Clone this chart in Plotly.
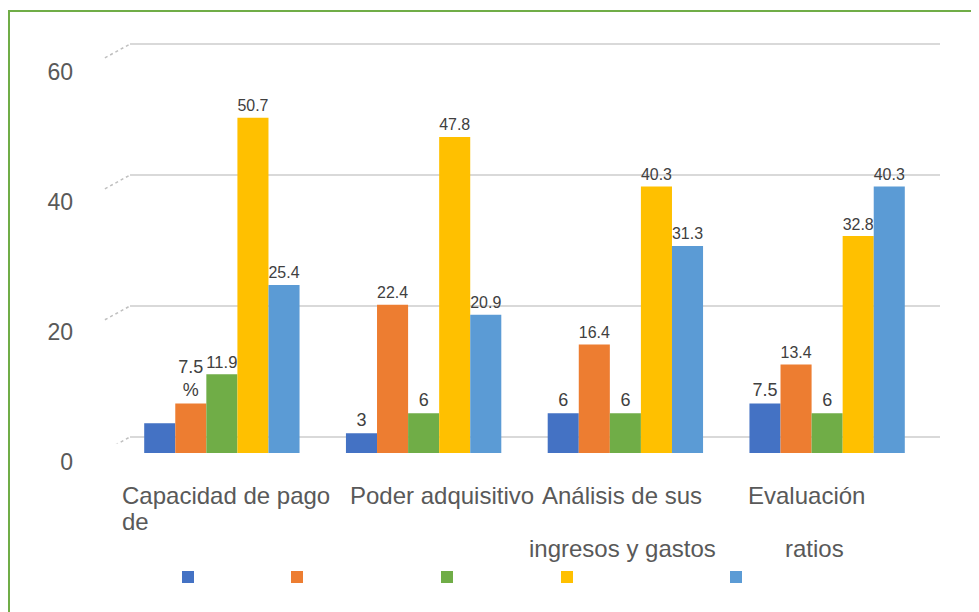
import plotly.graph_objects as go

# data
categories = ["Capacidad de pago de", "Poder adquisitivo",
              "Análisis de sus ingresos y gastos", "Evaluación ratios"]
category_line1 = ["Capacidad de pago", "Poder adquisitivo", "Análisis de sus", "Evaluación"]
category_line2 = ["de", "", "ingresos y gastos", "ratios"]

series_1 = [4.5, 3, 6, 7.5]
series_2 = [7.5, 22.4, 16.4, 13.4]
series_3 = [11.9, 6, 6, 6]
series_4 = [50.7, 47.8, 40.3, 32.8]
series_5 = [25.4, 20.9, 31.3, 40.3]

labels_1 = ["", "3", "6", "7.5"]
labels_2 = ["7.5<br>%", "22.4", "16.4", "13.4"]
labels_3 = ["11.9", "6", "6", "6"]
labels_4 = ["50.7", "47.8", "40.3", "32.8"]
labels_5 = ["25.4", "20.9", "31.3", "40.3"]

tick_values = [0, 20, 40, 60]

OFF = 8  # page body margin in the browser
W, H = 979 - OFF, 612 - OFF


def px_x(p):
    return (p - OFF) / W


def px_y(p):
    return 1 - (p - OFF) / H


colors = ["#4472c4", "#ed7d31", "#70ad47", "#ffc000", "#5b9bd5"]
all_series = [series_1, series_2, series_3, series_4, series_5]
all_labels = [labels_1, labels_2, labels_3, labels_4, labels_5]
legend_ids = ["legend", "legend2", "legend3", "legend4", "legend5"]
legend_centers = [188, 297, 447, 567, 736]

fig = go.Figure()

# empty traces so the grid and tick-label subplots get drawn
fig.add_trace(go.Scatter(x=[None], y=[None], xaxis="x", yaxis="y",
                         showlegend=False, hoverinfo="skip"))
fig.add_trace(go.Scatter(x=[None], y=[None], xaxis="x3", yaxis="y3",
                         showlegend=False, hoverinfo="skip"))

for vals, labs, col, lg in zip(all_series, all_labels, colors, legend_ids):
    fig.add_trace(go.Bar(
        x=categories, y=vals, text=labs, textposition="outside",
        textfont=dict(size=18, color="#404040"), cliponaxis=False,
        marker=dict(color=col, line=dict(width=0)),
        name=" ", legend=lg, xaxis="x2", yaxis="y2",
    ))

layout_legends = {}
for lg, cx in zip(legend_ids, legend_centers):
    layout_legends[lg] = dict(
        orientation="h", x=px_x(cx - 20), xanchor="left",
        y=px_y(577), yanchor="middle", bgcolor="rgba(0,0,0,0)",
        font=dict(size=12), itemwidth=30,
    )

# category labels, one annotation per line so the line spacing can follow the reference
annotations = []
line1_shift = [-102, 18, -3, -21]
line2_shift = [-102, 0, -3, -13]
anchors = ["left", "center", "center", "center"]
line2_y = [521, 0, 548, 548]
for i, cat in enumerate(categories):
    annotations.append(dict(
        x=cat, xref="x2", y=px_y(495), yref="paper", yanchor="middle",
        xanchor=anchors[i], xshift=line1_shift[i], text=category_line1[i],
        showarrow=False, font=dict(size=24, color="#595959"),
    ))
    if category_line2[i]:
        annotations.append(dict(
            x=cat, xref="x2", y=px_y(line2_y[i]), yref="paper", yanchor="middle",
            xanchor=anchors[i], xshift=line2_shift[i], text=category_line2[i],
            showarrow=False, font=dict(size=24, color="#595959"),
        ))

# small slanted stubs at the left end of each gridline (3D floor edge)
shapes = [dict(type="rect", xref="paper", yref="paper",
               x0=px_x(9), x1=1.1, y0=-0.1, y1=px_y(11),
               line=dict(color="#70ad47", width=2))]
for v in tick_values:
    shapes.append(dict(type="line", xref="x domain", yref="y",
                       x0=-0.031, x1=0, y0=v - 2.1, y1=v,
                       line=dict(color="#bfbfbf", width=1.5, dash="dot")))

fig.update_layout(
    width=W, height=H,
    margin=dict(l=0, r=0, t=0, b=0, autoexpand=False),
    paper_bgcolor="white", plot_bgcolor="rgba(0,0,0,0)",
    font=dict(family="Liberation Sans, Arial, sans-serif", color="#595959"),
    barmode="group", bargap=0.23, bargroupgap=0,
    xaxis=dict(domain=[px_x(130), px_x(940)], visible=False),
    yaxis=dict(domain=[px_y(443.5), px_y(31)], range=[-1, 62], tickvals=tick_values,
               showticklabels=False, showgrid=True, gridcolor="#d9d9d9", gridwidth=1.5,
               zeroline=False, showline=False, anchor="x"),
    xaxis2=dict(domain=[px_x(121), px_x(928)], type="category", range=[-0.5, 3.5],
                showticklabels=False, showgrid=False, zeroline=False, showline=False,
                anchor="y2"),
    yaxis2=dict(domain=[px_y(453), px_y(43)], range=[0, 62], visible=False, anchor="x2"),
    xaxis3=dict(domain=[px_x(74), px_x(84)], visible=False, anchor="y3"),
    yaxis3=dict(domain=[px_y(462), px_y(59)], range=[0, 62], tickvals=tick_values,
                showgrid=False, zeroline=False, showline=False, ticks="",
                tickfont=dict(size=23, color="#595959"), anchor="x3"),
    annotations=annotations,
    shapes=shapes,
    **layout_legends,
)

fig.write_html("out.html")
